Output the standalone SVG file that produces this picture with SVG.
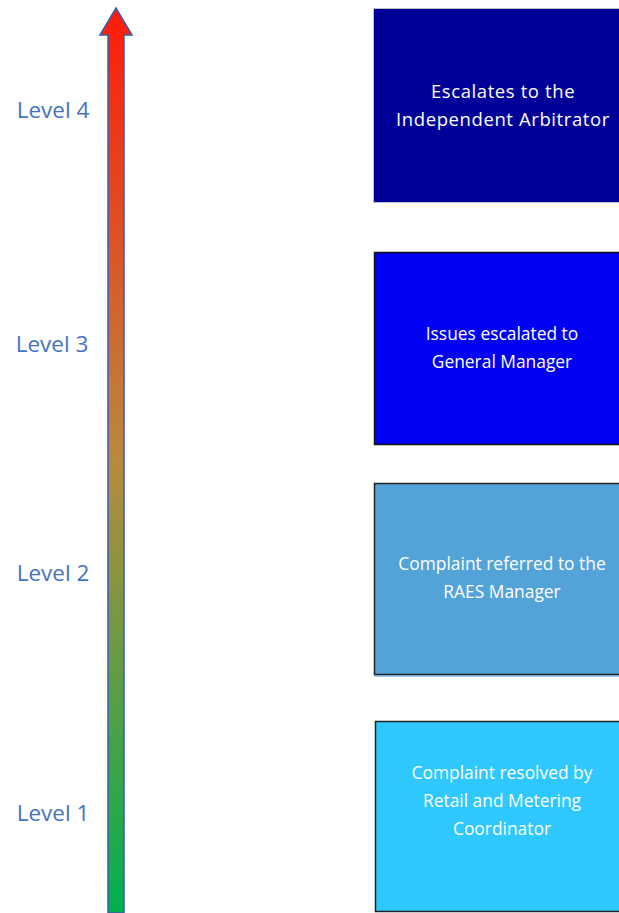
<svg xmlns="http://www.w3.org/2000/svg" width="619" height="913" viewBox="0 0 619 913">
<defs>
<linearGradient id="g" x1="0" y1="0" x2="0" y2="1">
<stop offset="0" stop-color="#FF1A0A"/>
<stop offset="0.5" stop-color="#B98A3E"/>
<stop offset="1" stop-color="#00B050"/>
</linearGradient>
<style>
.lvl{font-family:"Open Sans","Liberation Sans",sans-serif;font-size:22.5px;fill:#4472C4;text-anchor:middle}
.t{font-family:"Open Sans","Liberation Sans",sans-serif;font-size:17.4px;fill:#FFFFFF;text-anchor:middle}
.t4{font-family:"Open Sans","Liberation Sans",sans-serif;font-size:18.5px;fill:#FFFFFF;text-anchor:middle;letter-spacing:0.6px}
</style>
</defs>
<rect width="619" height="913" fill="#FFFFFF"/>
<g id="connectors">
<path d="M108,913 L108,35 L100,35 L116,8 L132,35 L124,35 L124,913 Z" fill="url(#g)" stroke="#3A5DA8" stroke-width="1.5"/>
</g>
<g id="labels">
<text class="lvl" x="53" y="118">Level 4</text>
<text class="lvl" x="52" y="352">Level 3</text>
<text class="lvl" x="53" y="581">Level 2</text>
<text class="lvl" x="53" y="821">Level 1</text>
</g>
<g id="n4">
<rect x="373.5" y="8.5" width="250" height="194" fill="#000099" stroke="#BFBFBF" stroke-width="1"/>
<text class="t4" x="503" y="98">Escalates to the</text>
<text class="t4" x="503" y="126">Independent Arbitrator</text>
</g>
<g id="n3">
<rect x="374.5" y="252.5" width="250" height="192" fill="#0000F5" stroke="#111111" stroke-width="1.5"/>
<text class="t" x="502" y="340">Issues escalated to</text>
<text class="t" x="502" y="368">General Manager</text>
</g>
<g id="n2">
<rect x="374.5" y="483.5" width="250" height="191" fill="#54A3D8" stroke="#222222" stroke-width="1.5"/>
<line x1="374" y1="676" x2="619" y2="676" stroke="#3C8DD0" stroke-width="1"/>
<text class="t" x="502" y="570">Complaint referred to the</text>
<text class="t" x="502" y="598">RAES Manager</text>
</g>
<g id="n1">
<rect x="375.5" y="721.5" width="250" height="190" fill="#2EC8FF" stroke="#222222" stroke-width="1.5"/>
<text class="t" x="502" y="779">Complaint resolved by</text>
<text class="t" x="502" y="807">Retail and Metering</text>
<text class="t" x="502" y="835">Coordinator</text>
</g>
</svg>
